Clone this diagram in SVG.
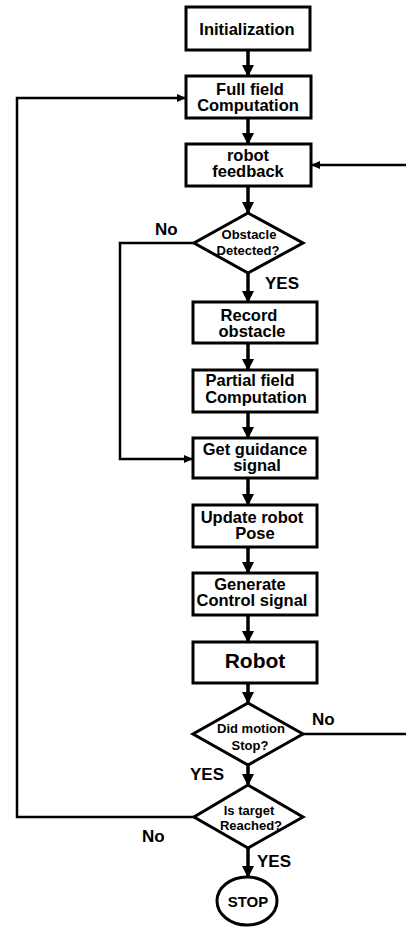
<svg xmlns="http://www.w3.org/2000/svg" width="406" height="927" viewBox="0 0 406 927">
<style>
.box{fill:#fff;stroke:#000;stroke-width:3}
.t{font-family:"Liberation Sans",Arial,sans-serif;font-weight:bold;fill:#000;text-anchor:middle}
.b{font-size:16.5px}
.d{font-size:13px}
.lbl{font-family:"Liberation Sans",Arial,sans-serif;font-weight:bold;font-size:17px;fill:#000}
.main{fill:none;stroke:#000;stroke-width:3.5}
.thin{fill:none;stroke:#000;stroke-width:2.5}
</style>
<defs>
<marker id="big" markerUnits="userSpaceOnUse" markerWidth="12" markerHeight="12" refX="11" refY="6" orient="auto">
<path d="M0,0 L12,6 L0,12 Z" fill="#000"/>
</marker>
<marker id="small" markerUnits="userSpaceOnUse" markerWidth="9" markerHeight="8" refX="9" refY="4" orient="auto">
<path d="M0,0 L9,4 L0,8 Z" fill="#000"/>
</marker>
</defs>
<rect width="406" height="927" fill="#fff"/>
<g id="connectors">
<line class="main" x1="248" y1="50" x2="248" y2="76" marker-end="url(#big)"/>
<line class="main" x1="248" y1="118" x2="248" y2="144" marker-end="url(#big)"/>
<line class="main" x1="248" y1="186" x2="248" y2="213" marker-end="url(#big)"/>
<line class="main" x1="248" y1="273" x2="248" y2="302" marker-end="url(#big)"/>
<line class="main" x1="248" y1="343" x2="248" y2="370" marker-end="url(#big)"/>
<line class="main" x1="248" y1="412" x2="248" y2="438" marker-end="url(#big)"/>
<line class="main" x1="248" y1="478" x2="248" y2="505" marker-end="url(#big)"/>
<line class="main" x1="248" y1="547" x2="248" y2="573" marker-end="url(#big)"/>
<line class="main" x1="248" y1="615" x2="248" y2="642" marker-end="url(#big)"/>
<line class="main" x1="248" y1="683" x2="248" y2="703" marker-end="url(#big)"/>
<line class="main" x1="248" y1="765" x2="248" y2="785" marker-end="url(#big)"/>
<line class="main" x1="248" y1="848" x2="248" y2="877" marker-end="url(#big)"/>
<polyline class="thin" points="194,817 17,817 17,98 186,98" marker-end="url(#small)"/>
<polyline class="thin" points="194,243 120,243 120,459 193,459" marker-end="url(#small)"/>
<line class="thin" x1="406" y1="165" x2="311" y2="165" marker-end="url(#small)"/>
<line class="thin" x1="303" y1="734" x2="406" y2="734"/>
<text class="lbl" x="155" y="235">No</text>
<text class="lbl" x="265" y="289">YES</text>
<text class="lbl" x="312" y="725">No</text>
<text class="lbl" x="190" y="780">YES</text>
<text class="lbl" x="142" y="842">No</text>
<text class="lbl" x="257" y="867">YES</text>
</g>
<g id="init">
<rect class="box" x="186" y="7" width="124" height="43"/>
<text class="t b" x="247" y="35">Initialization</text>
</g>
<g id="fullfield">
<rect class="box" x="186" y="76" width="125" height="42"/>
<text class="t b" x="250" y="95">Full field</text>
<text class="t b" x="248" y="111">Computation</text>
</g>
<g id="feedback">
<rect class="box" x="186" y="144" width="125" height="42"/>
<text class="t b" x="248" y="161">robot</text>
<text class="t b" x="248" y="177">feedback</text>
</g>
<g id="obstacle">
<polygon class="box" points="248,213 303,243 248,273 194,243"/>
<text class="t d" x="249" y="239">Obstacle</text>
<text class="t d" x="248" y="255">Detected?</text>
</g>
<g id="record">
<rect class="box" x="193" y="302" width="124" height="41"/>
<text class="t b" x="249" y="321">Record</text>
<text class="t b" x="252" y="337">obstacle</text>
</g>
<g id="partial">
<rect class="box" x="193" y="370" width="124" height="42"/>
<text class="t b" x="250" y="386">Partial field</text>
<text class="t b" x="256" y="403">Computation</text>
</g>
<g id="guidance">
<rect class="box" x="193" y="438" width="124" height="40"/>
<text class="t b" x="255" y="455">Get guidance</text>
<text class="t b" x="257" y="471">signal</text>
</g>
<g id="pose">
<rect class="box" x="193" y="505" width="124" height="42"/>
<text class="t b" x="252" y="523">Update robot</text>
<text class="t b" x="255" y="539">Pose</text>
</g>
<g id="control">
<rect class="box" x="193" y="573" width="124" height="42"/>
<text class="t b" x="250" y="590">Generate</text>
<text class="t b" x="252" y="606">Control signal</text>
</g>
<g id="robot">
<rect class="box" x="193" y="642" width="124" height="41"/>
<text class="t" style="font-size:21px" x="255" y="668">Robot</text>
</g>
<g id="motion">
<polygon class="box" points="248,703 303,734 248,765 193,734"/>
<text class="t d" x="251" y="733">Did motion</text>
<text class="t d" x="250" y="750">Stop?</text>
</g>
<g id="target">
<polygon class="box" points="248,785 303,817 248,848 194,817"/>
<text class="t d" x="249" y="815">Is target</text>
<text class="t d" x="251" y="830">Reached?</text>
</g>
<g id="stop">
<ellipse class="box" cx="247" cy="901" rx="30" ry="24"/>
<text class="t" style="font-size:15px" x="248" y="907">STOP</text>
</g>
</svg>
